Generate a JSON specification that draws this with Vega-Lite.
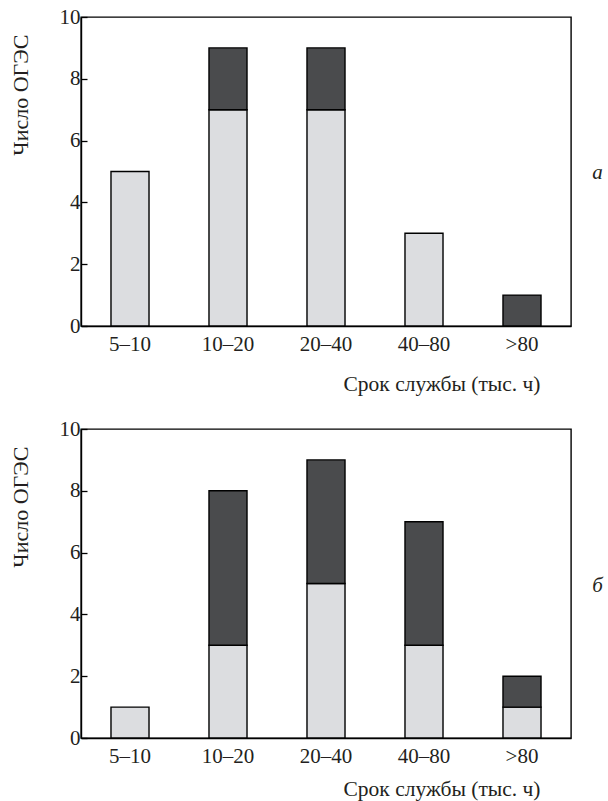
{
  "$schema": "https://vega.github.io/schema/vega-lite/v6.json",
  "background": "white",
  "padding": {"left": 8, "top": 5, "right": 2, "bottom": 5},
  "bounds": "flush",
  "spacing": 103,
  "config": {
    "font": "Liberation Serif",
    "view": {"stroke": "black", "strokeWidth": 1.4},
    "axis": {
      "grid": false,
      "domainColor": "black",
      "domainWidth": 1.4,
      "tickColor": "black",
      "tickWidth": 1.3,
      "labelColor": "#231f20",
      "titleColor": "#231f20",
      "labelFont": "Liberation Serif",
      "titleFont": "Liberation Serif",
      "labelFontSize": 21,
      "titleFontSize": 21.5,
      "titleFontWeight": "normal"
    }
  },
  "datasets": {
    "a": [
      {"range": "5–10", "type": "light", "count": 5},
      {"range": "10–20", "type": "light", "count": 7},
      {"range": "10–20", "type": "dark", "count": 2},
      {"range": "20–40", "type": "light", "count": 7},
      {"range": "20–40", "type": "dark", "count": 2},
      {"range": "40–80", "type": "light", "count": 3},
      {"range": ">80", "type": "dark", "count": 1}
    ],
    "b": [
      {"range": "5–10", "type": "light", "count": 1},
      {"range": "10–20", "type": "light", "count": 3},
      {"range": "10–20", "type": "dark", "count": 5},
      {"range": "20–40", "type": "light", "count": 5},
      {"range": "20–40", "type": "dark", "count": 4},
      {"range": "40–80", "type": "light", "count": 3},
      {"range": "40–80", "type": "dark", "count": 4},
      {"range": ">80", "type": "light", "count": 1},
      {"range": ">80", "type": "dark", "count": 1}
    ]
  },
  "vconcat": [
    {
      "width": 490,
      "height": 309,
      "data": {"name": "a"},
      "title": {"text": "а", "orient": "right", "angle": 0, "anchor": "middle", "offset": 16, "dy": -10, "fontSize": 21, "fontStyle": "italic", "fontWeight": "normal", "font": "Liberation Serif", "color": "#231f20"},
      "mark": {"type": "bar", "stroke": "black", "strokeWidth": 1.4},
      "encoding": {
        "x": {
          "field": "range", "type": "nominal", "sort": ["5–10", "10–20", "20–40", "40–80", ">80"],
          "scale": {"paddingInner": 0.612, "paddingOuter": 0.306},
          "axis": {"labelAngle": 0, "ticks": false, "labelPadding": 7, "title": "Срок службы (тыс. ч)", "titleX": 459, "titleY": 64, "titleAlign": "right", "titleBaseline": "alphabetic", "titleAnchor": null}
        },
        "y": {
          "field": "count", "type": "quantitative", "stack": "zero",
          "scale": {"domain": [0, 10], "nice": false},
          "axis": {"values": [0, 2, 4, 6, 8, 10], "tickSize": -6, "labelPadding": 7, "title": "Число ОГЭС", "titleFontSize": 22, "titleX": -54, "titleY": 17, "titleAngle": -90, "titleAlign": "right", "titleBaseline": "alphabetic"}
        },
        "color": {"field": "type", "type": "nominal", "scale": {"domain": ["light", "dark"], "range": ["#dcdde0", "#4a4b4d"]}, "legend": null},
        "order": {"field": "type", "sort": "descending"}
      }
    },
    {
      "width": 490,
      "height": 309,
      "data": {"name": "b"},
      "title": {"text": "б", "orient": "right", "angle": 0, "anchor": "middle", "offset": 16, "dy": -9, "fontSize": 21, "fontStyle": "italic", "fontWeight": "normal", "font": "Liberation Serif", "color": "#231f20"},
      "mark": {"type": "bar", "stroke": "black", "strokeWidth": 1.4},
      "encoding": {
        "x": {
          "field": "range", "type": "nominal", "sort": ["5–10", "10–20", "20–40", "40–80", ">80"],
          "scale": {"paddingInner": 0.612, "paddingOuter": 0.306},
          "axis": {"labelAngle": 0, "ticks": false, "labelPadding": 7, "title": "Срок службы (тыс. ч)", "titleX": 459, "titleY": 57, "titleAlign": "right", "titleBaseline": "alphabetic", "titleAnchor": null}
        },
        "y": {
          "field": "count", "type": "quantitative", "stack": "zero",
          "scale": {"domain": [0, 10], "nice": false},
          "axis": {"values": [0, 2, 4, 6, 8, 10], "tickSize": -6, "labelPadding": 7, "title": "Число ОГЭС", "titleFontSize": 22, "titleX": -54, "titleY": 17, "titleAngle": -90, "titleAlign": "right", "titleBaseline": "alphabetic"}
        },
        "color": {"field": "type", "type": "nominal", "scale": {"domain": ["light", "dark"], "range": ["#dcdde0", "#4a4b4d"]}, "legend": null},
        "order": {"field": "type", "sort": "descending"}
      }
    }
  ]
}
